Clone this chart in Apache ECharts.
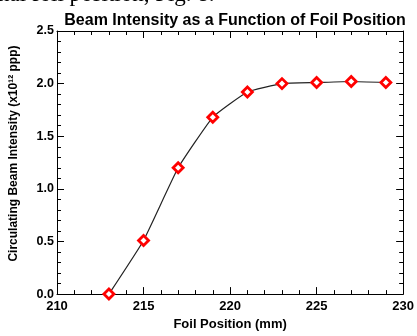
<!DOCTYPE html>
<html>
<head>
<meta charset="utf-8">
<script src="https://cdn.jsdelivr.net/npm/echarts@6/dist/echarts.min.js"></script>
<style>
  html, body { margin: 0; padding: 0; background: #fff; }
  #chart { width: 417px; height: 336px; }
</style>
</head>
<body>
<div id="chart"></div>
<script>
// foil position (mm) vs circulating beam intensity (x10^12 ppp)
const positions = [213, 215, 217, 219, 221, 223, 225, 227, 229];
const intensity = [0.0, 0.51, 1.20, 1.68, 1.92, 2.00, 2.01, 2.02, 2.01];

const xTicks = [210, 215, 220, 225, 230];
const yTicks = [0.0, 0.5, 1.0, 1.5, 2.0, 2.5];

const chart = echarts.init(document.getElementById("chart"));

const labelFont = { fontFamily: "Liberation Sans", fontWeight: "bold", color: "#000" };

const frameAxis = {
  axisLine: { show: true, onZero: false, lineStyle: { color: "#000", width: 1 } },
  axisTick: { show: true, inside: true, length: 7, lineStyle: { color: "#000" } },
  minorTick: { show: true, splitNumber: 5, length: 4, lineStyle: { color: "#000" } },
  splitLine: { show: false },
};

const option = {
  animation: false,
  backgroundColor: "#fff",
  title: {
    text: "Beam Intensity as a Function of Foil Position",
    left: 230,
    top: 8,
    textAlign: "center",
    textStyle: { ...labelFont, fontSize: 16 },
  },
  graphic: [
    {
      type: "text",
      left: -2,
      top: -17,
      style: {
        text: "nal foil position, Fig. 8.",
        font: "23px 'Liberation Serif'",
        fill: "#000",
      },
    },
  ],
  grid: { left: 55, right: 10, top: 31, bottom: 37 },
  xAxis: [
    {
      ...frameAxis,
      type: "value",
      min: xTicks[0],
      max: xTicks[xTicks.length - 1],
      interval: 5,
      name: "Foil Position (mm)",
      nameLocation: "middle",
      nameGap: 22,
      nameTextStyle: { ...labelFont, fontSize: 13 },
      axisLabel: { ...labelFont, fontSize: 13, margin: 6 },
    },
    {
      ...frameAxis,
      type: "value",
      position: "top",
      min: xTicks[0],
      max: xTicks[xTicks.length - 1],
      interval: 5,
      axisLabel: { show: false },
    },
  ],
  yAxis: [
    {
      ...frameAxis,
      type: "value",
      min: yTicks[0],
      max: yTicks[yTicks.length - 1],
      interval: 0.5,
      name: "Circulating Beam Intensity (x10¹² ppp)",
      nameLocation: "middle",
      nameGap: 37,
      nameTextStyle: { ...labelFont, fontSize: 12, padding: [0, 0, 0, 18] },
      axisLabel: {
        ...labelFont,
        fontSize: 12.5,
        margin: 3,
        formatter: (v) => v.toFixed(1),
      },
    },
    {
      ...frameAxis,
      type: "value",
      position: "right",
      min: yTicks[0],
      max: yTicks[yTicks.length - 1],
      interval: 0.5,
      axisLabel: { show: false },
    },
  ],
  series: [
    {
      type: "line",
      data: positions.map((p, i) => [p, intensity[i]]),
      smooth: 0.12,
      symbol: "diamond",
      symbolSize: 10,
      showAllSymbol: true,
      clip: false,
      lineStyle: { color: "#222", width: 1.2 },
      itemStyle: { color: "#fff", borderColor: "#ff0000", borderWidth: 2.8 },
      z: 5,
    },
  ],
};

chart.setOption(option);
</script>
</body>
</html>
